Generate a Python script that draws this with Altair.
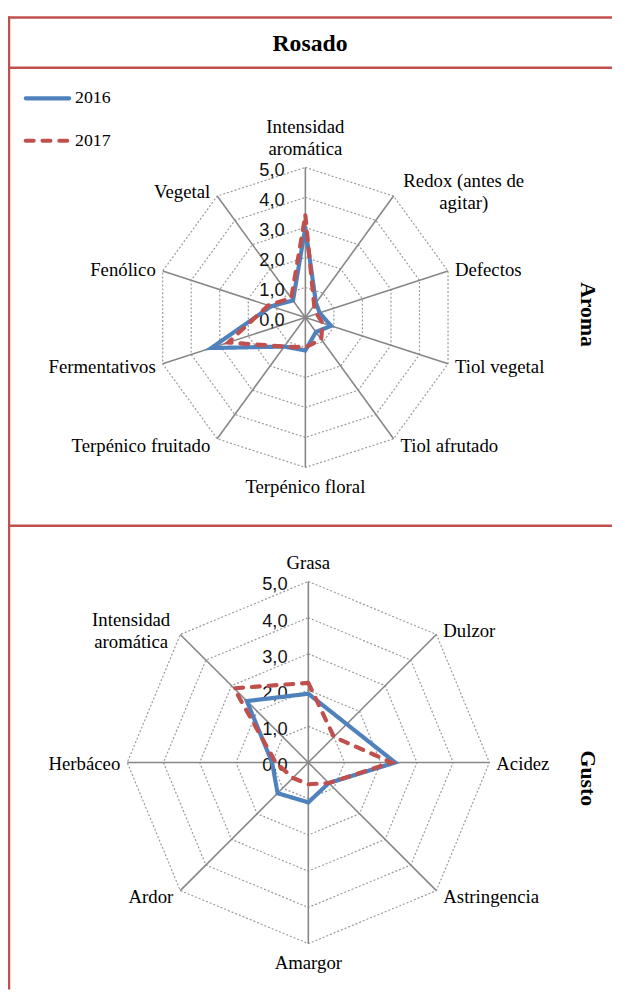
import math
import altair as alt
import pandas as pd

# ---------------- data ----------------
title_text = "Rosado"
years = ["2016", "2017"]
tick_values = [0, 1, 2, 3, 4, 5]
tick_labels = ["0,0", "1,0", "2,0", "3,0", "4,0", "5,0"]

aroma_title = "Aroma"
aroma_labels = ["Intensidad\naromática", "Redox (antes de\nagitar)", "Defectos",
                "Tiol vegetal", "Tiol afrutado", "Terpénico floral",
                "Terpénico fruitado", "Fermentativos", "Fenólico", "Vegetal"]
aroma_2016 = [3.0, 0.6, 0.5, 0.9, 0.6, 1.1, 1.2, 3.3, 1.2, 0.7]
aroma_2017 = [3.4, 0.5, 0.4, 0.6, 0.9, 1.0, 1.2, 2.7, 1.3, 0.8]

gusto_title = "Gusto"
gusto_labels = ["Grasa", "Dulzor", "Acidez", "Astringencia", "Amargor",
                "Ardor", "Herbáceo", "Intensidad\naromática"]
gusto_2016 = [1.9, 1.5, 2.4, 0.8, 1.1, 1.2, 1.0, 2.4]
gusto_2017 = [2.2, 1.0, 2.3, 0.8, 0.6, 0.6, 0.9, 2.9]

# ---------------- layout ----------------
W, H = 612, 988
BLUE, RED = "#4F81BD", "#C0504D"
SERIF = "Liberation Serif"
SANS = "Liberation Sans"
LABEL_SIZE = 19
LH = 22

panels = [
    dict(name=aroma_title, labels=aroma_labels, s2016=aroma_2016, s2017=aroma_2017,
         cx=301.3, cy=307.0, r=152.0, title_y=304),
    dict(name=gusto_title, labels=gusto_labels, s2016=gusto_2016, s2017=gusto_2017,
         cx=304.3, cy=758.0, r=183.5, title_y=774),
]
vmax = tick_values[-1]

series_rows, ring_rows, spoke_rows, label_rows, tick_rows, sect_rows = [], [], [], [], [], []
for p in panels:
    n = len(p["labels"])
    cx, cy, r = p["cx"], p["cy"], p["r"]
    unit = r / vmax

    def pt(i, v):
        a = 2 * math.pi * (i % n) / n
        return cx + unit * v * math.sin(a), cy - unit * v * math.cos(a)

    for yr, vals in zip(years, [p["s2016"], p["s2017"]]):
        for i in range(n + 1):
            x, y = pt(i, vals[i % n])
            series_rows.append(dict(panel=p["name"], year=yr, idx=i, x=x, y=y))
    for k in tick_values[1:]:
        for i in range(n + 1):
            x, y = pt(i, k)
            ring_rows.append(dict(panel=p["name"], ring=k, idx=i, x=x, y=y))
    for i in range(n):
        x, y = pt(i, vmax)
        spoke_rows.append(dict(panel=p["name"], x=cx, y=cy, x2=x, y2=y))
        a = 2 * math.pi * i / n
        s, c = math.sin(a), math.cos(a)
        lab = p["labels"][i]
        nl = lab.count("\n")
        if abs(s) < 1e-6:
            side = "top" if c > 0 else "bottom"
            lx = x
            ly = y - 9 - nl * LH if c > 0 else y + 11
        else:
            side = "right" if s > 0 else "left"
            ly = y + 1.5 - 7 * c - nl * LH / 2
            lx = x + 7 if s > 0 else x - 7
            if nl:
                half = max(len(t) for t in lab.split("\n")) * LABEL_SIZE * 0.45 / 2
                lx = lx + half if s > 0 else lx - half
                side = "mid"
        label_rows.append(dict(panel=p["name"], text=lab, side=side, x=lx, y=ly))
    for v, t in zip(tick_values, tick_labels):
        tick_rows.append(dict(panel=p["name"], text=t, x=cx - 21, y=cy - unit * v + 3))
    sect_rows.append(dict(text=p["name"], x=588, y=p["title_y"]))

series = pd.DataFrame(series_rows)
rings = pd.DataFrame(ring_rows)
spokes = pd.DataFrame(spoke_rows)
labels = pd.DataFrame(label_rows)
ticks = pd.DataFrame(tick_rows)
sects = pd.DataFrame(sect_rows)
legend = pd.DataFrame(dict(year=years, x=[18, 18], x2=[62, 60], y=[85, 128], tx=[68, 68]))

xs = alt.Scale(domain=[0, W], nice=False, zero=False)
ys = alt.Scale(domain=[0, H], reverse=True, nice=False, zero=False)
X = lambda f: alt.X(f, scale=xs, axis=None)
Y = lambda f: alt.Y(f, scale=ys, axis=None)
color = alt.Color("year:N", scale=alt.Scale(domain=years, range=[BLUE, RED]), legend=None)
dash = alt.StrokeDash("year:N", scale=alt.Scale(domain=years, range=[[1, 0], [8, 9]]), legend=None)

ring_layer = alt.Chart(rings).mark_line(color="#9a9a9a", strokeWidth=1.2, strokeDash=[2, 2]).encode(
    x=X("x:Q"), y=Y("y:Q"), detail=["panel:N", "ring:N"], order="idx:Q")
spoke_layer = alt.Chart(spokes).mark_rule(color="#878787", strokeWidth=1.6).encode(
    x=X("x:Q"), y=Y("y:Q"), x2="x2:Q", y2="y2:Q")
tick_layer = alt.Chart(ticks).mark_text(font=SANS, fontSize=18.5, align="right", baseline="middle",
                                        color="#111").encode(x=X("x:Q"), y=Y("y:Q"), text="text:N")
series_layer = alt.Chart(series).mark_line(strokeWidth=4.2, strokeCap="round").encode(
    x=X("x:Q"), y=Y("y:Q"), color=color, strokeDash=dash, detail="panel:N", order="idx:Q")

def label_layer(side, align, baseline):
    return alt.Chart(labels).transform_filter(alt.datum.side == side).mark_text(
        font=SERIF, fontSize=LABEL_SIZE, align=align, baseline=baseline, lineBreak="\n",
        lineHeight=LH, color="#000").encode(x=X("x:Q"), y=Y("y:Q"), text="text:N")

lab_layers = [label_layer("top", "center", "bottom"), label_layer("bottom", "center", "top"),
              label_layer("right", "left", "middle"), label_layer("left", "right", "middle"),
              label_layer("mid", "center", "middle")]

sect_layer = alt.Chart(sects).mark_text(font=SERIF, fontSize=22, fontWeight="bold", angle=90,
                                        align="center", baseline="middle", color="#000").encode(
    x=X("x:Q"), y=Y("y:Q"), text="text:N")

leg_lines = alt.Chart(legend).mark_rule(strokeWidth=4.2, strokeCap="round").encode(
    x=X("x:Q"), x2="x2:Q", y=Y("y:Q"), color=color, strokeDash=dash)
leg_text = alt.Chart(legend).mark_text(font=SERIF, fontSize=18, align="left", baseline="middle",
                                       color="#000").encode(x=X("tx:Q"), y=Y("y:Q"), text="year:N")

title_layer = alt.Chart(pd.DataFrame(dict(text=[title_text]))).mark_text(
    font=SERIF, fontSize=24, fontWeight="bold", align="center", baseline="middle", color="#000").encode(
    x=alt.value(306), y=alt.value(30), text="text:N")

one = pd.DataFrame(dict(d=[0]))
def hline(yv):
    return alt.Chart(one).mark_rule(color=RED, strokeWidth=2.5).encode(
        x=alt.value(0), x2=alt.value(W), y=alt.value(yv))
borders = [hline(3), hline(54), hline(518),
           alt.Chart(one).mark_rule(color=RED, strokeWidth=2.5).encode(
               x=alt.value(1), y=alt.value(2), y2=alt.value(H))]

chart = alt.layer(ring_layer, spoke_layer, tick_layer, series_layer, *lab_layers, sect_layer,
                  leg_lines, leg_text, title_layer, *borders).properties(
    width=W, height=H, padding=0, autosize="none").configure_view(strokeWidth=0)

chart.save("out.html", embed_options={"renderer": "svg", "actions": False})
